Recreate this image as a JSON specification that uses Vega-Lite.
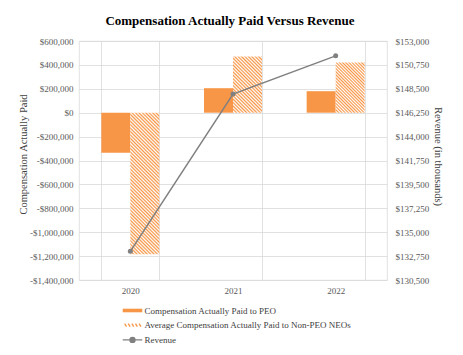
{
  "$schema": "https://vega.github.io/schema/vega-lite/v6.json",
  "width": 308,
  "height": 239,
  "autosize": {"type": "none"},
  "padding": {"left": 79, "top": 41, "right": 76, "bottom": 75},
  "background": "white",
  "title": {"text": "Compensation Actually Paid Versus Revenue", "font": "Liberation Serif", "fontSize": 13, "fontWeight": "bold", "color": "#000000", "offset": 9, "anchor": "middle", "dx": -3},
  "datasets": {
    "comp": [
      {"year": "2020", "series": "Compensation Actually Paid to PEO", "value": -335000},
      {"year": "2021", "series": "Compensation Actually Paid to PEO", "value": 205000},
      {"year": "2022", "series": "Compensation Actually Paid to PEO", "value": 180000},
      {"year": "2020", "series": "Average Compensation Actually Paid to Non-PEO NEOs", "value": -1185000},
      {"year": "2021", "series": "Average Compensation Actually Paid to Non-PEO NEOs", "value": 470000},
      {"year": "2022", "series": "Average Compensation Actually Paid to Non-PEO NEOs", "value": 420000}
    ],
    "rev": [
      {"year": "2020", "revenue": 133200},
      {"year": "2021", "revenue": 148000},
      {"year": "2022", "revenue": 151600}
    ]
  },
  "encoding": {
    "x": {
      "field": "year", "type": "nominal",
      "scale": {"paddingInner": 0.435, "paddingOuter": 0.2175},
      "axis": {"title": null, "labelAngle": 0, "labelPadding": 6, "ticks": false, "domain": false, "grid": true, "tickBand": "extent", "gridColor": "#d9d9d9", "gridWidth": 0.8}
    }
  },
  "layer": [
    {
      "data": {"name": "comp"},
      "encoding": {
        "xOffset": {"field": "series", "type": "nominal", "scale": {"domain": ["Compensation Actually Paid to PEO", "Average Compensation Actually Paid to Non-PEO NEOs"], "paddingInner": 0, "paddingOuter": 0}},
        "y": {
          "field": "value", "type": "quantitative",
          "scale": {"domain": [-1400000, 600000], "nice": false, "zero": false},
          "axis": {"title": "Compensation Actually Paid", "values": [600000, 400000, 200000, 0, -200000, -400000, -600000, -800000, -1000000, -1200000, -1400000], "labelExpr": "(datum.value < 0 ? '-' : '') + '$' + format(abs(datum.value), ',')", "grid": true, "gridColor": "#d9d9d9", "gridWidth": 0.8, "ticks": false, "domain": false, "labelPadding": 6, "titlePadding": 1, "titleY": 113}
        }
      },
      "layer": [
        {
          "transform": [{"filter": "datum.series === 'Compensation Actually Paid to PEO'"}],
          "mark": {"type": "bar", "color": "#f79646"},
          "encoding": {
            "color": {
              "field": "series", "type": "nominal",
              "scale": {"domain": ["Compensation Actually Paid to PEO", "Average Compensation Actually Paid to Non-PEO NEOs", "Revenue"], "range": ["#f79646", "#f79646", "#808080"]},
              "legend": {
                "orient": "none", "legendX": 46.5, "legendY": 262.5, "direction": "vertical", "title": null,
                "symbolSize": 144, "labelOffset": 5, "rowPadding": 2.7, "labelLimit": 400,
                "encode": {
                  "symbols": {
                    "update": {
                      "shape": {"signal": "datum.value === 'Revenue' ? 'M-1.63,0H1.63M0.42,0A0.42,0.42,0,1,1,-0.42,0A0.42,0.42,0,1,1,0.42,0' : (datum.value === 'Compensation Actually Paid to PEO' ? 'M-1.63,-0.3H1.63V0.3H-1.63Z' : 'M-1.3,-0.25L-1,0.25M-0.7,-0.25L-0.4,0.25M-0.1,-0.25L0.2,0.25M0.5,-0.25L0.8,0.25M1.1,-0.25L1.4,0.25')"},
                      "fill": {"signal": "datum.value === 'Average Compensation Actually Paid to Non-PEO NEOs' ? 'transparent' : (datum.value === 'Revenue' ? '#808080' : '#f79646')"},
                      "stroke": {"signal": "datum.value === 'Revenue' ? '#808080' : (datum.value === 'Compensation Actually Paid to PEO' ? 'transparent' : '#f79646')"},
                      "strokeWidth": {"value": 1.3},
                      "fillOpacity": {"value": 1},
                      "opacity": {"value": 1}
                    }
                  }
                }
              }
            }
          }
        },
        {
          "transform": [{"filter": "datum.series !== 'Compensation Actually Paid to PEO' && datum.year === '2020'"}],
          "mark": {"type": "bar", "fill": {"gradient": "linear", "x1": 0, "y1": 1, "x2": 0.2368, "y2": -0.1563, "stops": [
            {"offset": 0, "color": "#f79646"}, {"offset": 0.01, "color": "#ffffff"}, {"offset": 0.02, "color": "#f79646"}, {"offset": 0.03, "color": "#ffffff"}, {"offset": 0.04, "color": "#f79646"}, {"offset": 0.05, "color": "#ffffff"}, {"offset": 0.06, "color": "#f79646"}, {"offset": 0.07, "color": "#ffffff"}, {"offset": 0.08, "color": "#f79646"}, {"offset": 0.09, "color": "#ffffff"},
            {"offset": 0.10, "color": "#f79646"}, {"offset": 0.11, "color": "#ffffff"}, {"offset": 0.12, "color": "#f79646"}, {"offset": 0.13, "color": "#ffffff"}, {"offset": 0.14, "color": "#f79646"}, {"offset": 0.15, "color": "#ffffff"}, {"offset": 0.16, "color": "#f79646"}, {"offset": 0.17, "color": "#ffffff"}, {"offset": 0.18, "color": "#f79646"}, {"offset": 0.19, "color": "#ffffff"},
            {"offset": 0.20, "color": "#f79646"}, {"offset": 0.21, "color": "#ffffff"}, {"offset": 0.22, "color": "#f79646"}, {"offset": 0.23, "color": "#ffffff"}, {"offset": 0.24, "color": "#f79646"}, {"offset": 0.25, "color": "#ffffff"}, {"offset": 0.26, "color": "#f79646"}, {"offset": 0.27, "color": "#ffffff"}, {"offset": 0.28, "color": "#f79646"}, {"offset": 0.29, "color": "#ffffff"},
            {"offset": 0.30, "color": "#f79646"}, {"offset": 0.31, "color": "#ffffff"}, {"offset": 0.32, "color": "#f79646"}, {"offset": 0.33, "color": "#ffffff"}, {"offset": 0.34, "color": "#f79646"}, {"offset": 0.35, "color": "#ffffff"}, {"offset": 0.36, "color": "#f79646"}, {"offset": 0.37, "color": "#ffffff"}, {"offset": 0.38, "color": "#f79646"}, {"offset": 0.39, "color": "#ffffff"},
            {"offset": 0.40, "color": "#f79646"}, {"offset": 0.41, "color": "#ffffff"}, {"offset": 0.42, "color": "#f79646"}, {"offset": 0.43, "color": "#ffffff"}, {"offset": 0.44, "color": "#f79646"}, {"offset": 0.45, "color": "#ffffff"}, {"offset": 0.46, "color": "#f79646"}, {"offset": 0.47, "color": "#ffffff"}, {"offset": 0.48, "color": "#f79646"}, {"offset": 0.49, "color": "#ffffff"},
            {"offset": 0.50, "color": "#f79646"}, {"offset": 0.51, "color": "#ffffff"}, {"offset": 0.52, "color": "#f79646"}, {"offset": 0.53, "color": "#ffffff"}, {"offset": 0.54, "color": "#f79646"}, {"offset": 0.55, "color": "#ffffff"}, {"offset": 0.56, "color": "#f79646"}, {"offset": 0.57, "color": "#ffffff"}, {"offset": 0.58, "color": "#f79646"}, {"offset": 0.59, "color": "#ffffff"},
            {"offset": 0.60, "color": "#f79646"}, {"offset": 0.61, "color": "#ffffff"}, {"offset": 0.62, "color": "#f79646"}, {"offset": 0.63, "color": "#ffffff"}, {"offset": 0.64, "color": "#f79646"}, {"offset": 0.65, "color": "#ffffff"}, {"offset": 0.66, "color": "#f79646"}, {"offset": 0.67, "color": "#ffffff"}, {"offset": 0.68, "color": "#f79646"}, {"offset": 0.69, "color": "#ffffff"},
            {"offset": 0.70, "color": "#f79646"}, {"offset": 0.71, "color": "#ffffff"}, {"offset": 0.72, "color": "#f79646"}, {"offset": 0.73, "color": "#ffffff"}, {"offset": 0.74, "color": "#f79646"}, {"offset": 0.75, "color": "#ffffff"}, {"offset": 0.76, "color": "#f79646"}, {"offset": 0.77, "color": "#ffffff"}, {"offset": 0.78, "color": "#f79646"}, {"offset": 0.79, "color": "#ffffff"},
            {"offset": 0.80, "color": "#f79646"}, {"offset": 0.81, "color": "#ffffff"}, {"offset": 0.82, "color": "#f79646"}, {"offset": 0.83, "color": "#ffffff"}, {"offset": 0.84, "color": "#f79646"}, {"offset": 0.85, "color": "#ffffff"}, {"offset": 0.86, "color": "#f79646"}, {"offset": 0.87, "color": "#ffffff"}, {"offset": 0.88, "color": "#f79646"}, {"offset": 0.89, "color": "#ffffff"},
            {"offset": 0.90, "color": "#f79646"}, {"offset": 0.91, "color": "#ffffff"}, {"offset": 0.92, "color": "#f79646"}, {"offset": 0.93, "color": "#ffffff"}, {"offset": 0.94, "color": "#f79646"}, {"offset": 0.95, "color": "#ffffff"}, {"offset": 0.96, "color": "#f79646"}, {"offset": 0.97, "color": "#ffffff"}, {"offset": 0.98, "color": "#f79646"}, {"offset": 0.99, "color": "#ffffff"},
            {"offset": 1, "color": "#f79646"}
          ]}}
        },
        {
          "transform": [{"filter": "datum.series !== 'Compensation Actually Paid to PEO' && datum.year === '2021'"}],
          "mark": {"type": "bar", "fill": {"gradient": "linear", "x1": 0, "y1": 1, "x2": 0.6178, "y2": -0.1972, "stops": [
            {"offset": 0, "color": "#f79646"}, {"offset": 0.02, "color": "#ffffff"}, {"offset": 0.04, "color": "#f79646"}, {"offset": 0.06, "color": "#ffffff"}, {"offset": 0.08, "color": "#f79646"}, {"offset": 0.10, "color": "#ffffff"}, {"offset": 0.12, "color": "#f79646"}, {"offset": 0.14, "color": "#ffffff"}, {"offset": 0.16, "color": "#f79646"}, {"offset": 0.18, "color": "#ffffff"},
            {"offset": 0.20, "color": "#f79646"}, {"offset": 0.22, "color": "#ffffff"}, {"offset": 0.24, "color": "#f79646"}, {"offset": 0.26, "color": "#ffffff"}, {"offset": 0.28, "color": "#f79646"}, {"offset": 0.30, "color": "#ffffff"}, {"offset": 0.32, "color": "#f79646"}, {"offset": 0.34, "color": "#ffffff"}, {"offset": 0.36, "color": "#f79646"}, {"offset": 0.38, "color": "#ffffff"},
            {"offset": 0.40, "color": "#f79646"}, {"offset": 0.42, "color": "#ffffff"}, {"offset": 0.44, "color": "#f79646"}, {"offset": 0.46, "color": "#ffffff"}, {"offset": 0.48, "color": "#f79646"}, {"offset": 0.50, "color": "#ffffff"}, {"offset": 0.52, "color": "#f79646"}, {"offset": 0.54, "color": "#ffffff"}, {"offset": 0.56, "color": "#f79646"}, {"offset": 0.58, "color": "#ffffff"},
            {"offset": 0.60, "color": "#f79646"}, {"offset": 0.62, "color": "#ffffff"}, {"offset": 0.64, "color": "#f79646"}, {"offset": 0.66, "color": "#ffffff"}, {"offset": 0.68, "color": "#f79646"}, {"offset": 0.70, "color": "#ffffff"}, {"offset": 0.72, "color": "#f79646"}, {"offset": 0.74, "color": "#ffffff"}, {"offset": 0.76, "color": "#f79646"}, {"offset": 0.78, "color": "#ffffff"},
            {"offset": 0.80, "color": "#f79646"}, {"offset": 0.82, "color": "#ffffff"}, {"offset": 0.84, "color": "#f79646"}, {"offset": 0.86, "color": "#ffffff"}, {"offset": 0.88, "color": "#f79646"}, {"offset": 0.90, "color": "#ffffff"}, {"offset": 0.92, "color": "#f79646"}, {"offset": 0.94, "color": "#ffffff"}, {"offset": 0.96, "color": "#f79646"}, {"offset": 0.98, "color": "#ffffff"},
            {"offset": 1, "color": "#f79646"}
          ]}}
        },
        {
          "transform": [{"filter": "datum.series !== 'Compensation Actually Paid to PEO' && datum.year === '2022'"}],
          "mark": {"type": "bar", "fill": {"gradient": "linear", "x1": 0, "y1": 1, "x2": 0.6834, "y2": -0.1829, "stops": [
            {"offset": 0, "color": "#f79646"}, {"offset": 0.02, "color": "#ffffff"}, {"offset": 0.04, "color": "#f79646"}, {"offset": 0.06, "color": "#ffffff"}, {"offset": 0.08, "color": "#f79646"}, {"offset": 0.10, "color": "#ffffff"}, {"offset": 0.12, "color": "#f79646"}, {"offset": 0.14, "color": "#ffffff"}, {"offset": 0.16, "color": "#f79646"}, {"offset": 0.18, "color": "#ffffff"},
            {"offset": 0.20, "color": "#f79646"}, {"offset": 0.22, "color": "#ffffff"}, {"offset": 0.24, "color": "#f79646"}, {"offset": 0.26, "color": "#ffffff"}, {"offset": 0.28, "color": "#f79646"}, {"offset": 0.30, "color": "#ffffff"}, {"offset": 0.32, "color": "#f79646"}, {"offset": 0.34, "color": "#ffffff"}, {"offset": 0.36, "color": "#f79646"}, {"offset": 0.38, "color": "#ffffff"},
            {"offset": 0.40, "color": "#f79646"}, {"offset": 0.42, "color": "#ffffff"}, {"offset": 0.44, "color": "#f79646"}, {"offset": 0.46, "color": "#ffffff"}, {"offset": 0.48, "color": "#f79646"}, {"offset": 0.50, "color": "#ffffff"}, {"offset": 0.52, "color": "#f79646"}, {"offset": 0.54, "color": "#ffffff"}, {"offset": 0.56, "color": "#f79646"}, {"offset": 0.58, "color": "#ffffff"},
            {"offset": 0.60, "color": "#f79646"}, {"offset": 0.62, "color": "#ffffff"}, {"offset": 0.64, "color": "#f79646"}, {"offset": 0.66, "color": "#ffffff"}, {"offset": 0.68, "color": "#f79646"}, {"offset": 0.70, "color": "#ffffff"}, {"offset": 0.72, "color": "#f79646"}, {"offset": 0.74, "color": "#ffffff"}, {"offset": 0.76, "color": "#f79646"}, {"offset": 0.78, "color": "#ffffff"},
            {"offset": 0.80, "color": "#f79646"}, {"offset": 0.82, "color": "#ffffff"}, {"offset": 0.84, "color": "#f79646"}, {"offset": 0.86, "color": "#ffffff"}, {"offset": 0.88, "color": "#f79646"}, {"offset": 0.90, "color": "#ffffff"}, {"offset": 0.92, "color": "#f79646"}, {"offset": 0.94, "color": "#ffffff"}, {"offset": 0.96, "color": "#f79646"}, {"offset": 0.98, "color": "#ffffff"},
            {"offset": 1, "color": "#f79646"}
          ]}}
        }
      ]
    },
    {
      "data": {"name": "rev"},
      "mark": {"type": "line", "color": "#808080", "strokeWidth": 1.5, "point": {"filled": true, "size": 25, "color": "#808080"}},
      "encoding": {
        "y": {
          "field": "revenue", "type": "quantitative",
          "scale": {"domain": [130500, 153000], "nice": false, "zero": false},
          "axis": {"orient": "right", "title": "Revenue (in thousands)", "values": [130500, 132750, 135000, 137250, 139500, 141750, 144000, 146250, 148500, 150750, 153000], "labelExpr": "'$' + format(datum.value, ',')", "grid": false, "ticks": false, "domain": false, "labelPadding": 8, "titlePadding": 4, "titleY": 115}
        }
      }
    }
  ],
  "resolve": {"scale": {"y": "independent"}},
  "config": {
    "font": "Liberation Serif",
    "view": {"stroke": "#d9d9d9", "strokeWidth": 0.8},
    "axis": {"labelFont": "Liberation Serif", "labelFontSize": 9, "labelColor": "#595959", "titleFont": "Liberation Serif", "titleFontSize": 10.5, "titleFontWeight": "normal", "titleColor": "#404040"},
    "legend": {"labelFont": "Liberation Serif", "labelFontSize": 9, "labelColor": "#404040"}
  }
}
